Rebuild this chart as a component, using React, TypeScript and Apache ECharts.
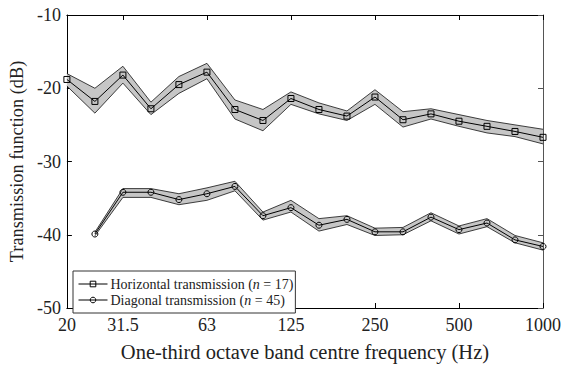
import React, { useEffect, useRef } from 'react';
import * as echarts from 'echarts';

const freqs = ['20', '25', '31.5', '40', '50', '63', '80', '100', '125', '160', '200', '250', '315', '400', '500', '630', '800', '1000'];
const shownFreqs = ['20', '31.5', '63', '125', '250', '500', '1000'];

const horizName = 'Horizontal transmission (n = 17)';
const horizMean = [-18.8, -21.8, -18.2, -22.8, -19.5, -17.8, -22.9, -24.4, -21.4, -22.9, -23.8, -21.2, -24.3, -23.5, -24.5, -25.2, -25.9, -26.7];
const horizUpper = [-18.0, -20.0, -17.0, -21.9, -18.4, -16.6, -21.6, -22.9, -20.5, -22.0, -23.1, -20.2, -23.2, -22.8, -23.6, -24.4, -25.0, -25.6];
const horizLower = [-19.7, -23.4, -19.3, -23.6, -20.7, -18.7, -24.2, -25.8, -22.2, -23.5, -24.4, -22.2, -25.3, -24.2, -25.2, -26.1, -26.6, -27.6];

const diagName = 'Diagonal transmission (n = 45)';
const diagMean = [null, -39.9, -34.2, -34.2, -35.2, -34.4, -33.4, -37.4, -36.3, -38.7, -37.9, -39.6, -39.6, -37.6, -39.3, -38.4, -40.7, -41.6];
const diagUpper = [null, -39.65, -33.7, -33.7, -34.4, -33.6, -32.7, -36.9, -35.3, -37.8, -37.4, -39.1, -39.0, -37.0, -38.8, -37.8, -40.1, -41.1];
const diagLower = [null, -40.15, -34.9, -34.9, -35.9, -35.3, -34.0, -38.0, -36.9, -39.5, -38.6, -40.1, -40.0, -38.1, -39.9, -38.9, -41.1, -42.1];

const FONT = '"Liberation Serif", "Times New Roman", serif';
const TXT = '#222';
const BAND = '#c6c6c6';

const toData = (arr: (number | null)[]) => arr.map((v) => (v == null ? '-' : v));
const diff = (up: (number | null)[], lo: (number | null)[]) =>
  up.map((u, i) => (u == null || lo[i] == null ? '-' : +((u as number) - (lo[i] as number)).toFixed(3)));

function bandSeries(stack: string, lower: (number | null)[], upper: (number | null)[]) {
  return [
    {
      type: 'line',
      stack,
      stackStrategy: 'all',
      data: toData(lower),
      symbol: 'none',
      lineStyle: { color: '#111', width: 0.8 },
      silent: true,
      z: 2,
    },
    {
      type: 'line',
      stack,
      stackStrategy: 'all',
      data: diff(upper, lower),
      symbol: 'none',
      lineStyle: { color: '#111', width: 0.8 },
      areaStyle: { color: BAND, opacity: 1 },
      silent: true,
      z: 2,
    },
  ];
}

function meanSeries(name: string, data: (number | null)[], symbol: string) {
  return {
    type: 'line',
    name,
    data: toData(data),
    symbol,
    symbolSize: 6,
    showAllSymbol: true,
    lineStyle: { color: '#000', width: 1 },
    itemStyle: { color: 'rgba(0,0,0,0)', borderColor: '#000', borderWidth: 1 },
    z: 3,
  };
}

export default function App() {
  const ref = useRef<HTMLDivElement>(null);
  useEffect(() => {
    if (!ref.current) return;
    const chart = echarts.init(ref.current, undefined, { renderer: 'svg' });
    const showIdx = (i: number) => shownFreqs.includes(freqs[i]);
    chart.setOption({
      animation: false,
      grid: { left: 64, right: 23, top: 15, bottom: 52 },
      legend: {
        data: [horizName, diagName],
        orient: 'vertical',
        left: 73,
        top: 271,
        padding: [5, 2, 5, 5],
        itemGap: 0,
        itemWidth: 29,
        itemHeight: 7,
        borderColor: '#333',
        borderWidth: 1,
        borderRadius: 0,
        backgroundColor: '#fff',
        lineStyle: { width: 1, color: '#000' },
        itemStyle: { borderWidth: 1, borderColor: '#000', color: 'rgba(0,0,0,0)' },
        textStyle: {
          fontFamily: FONT,
          fontSize: 14,
          color: TXT,
          lineHeight: 16,
          padding: [0, 0, 0, -2],
          rich: { i: { fontStyle: 'italic', fontFamily: FONT, fontSize: 14, color: TXT, lineHeight: 16 } },
        },
        formatter: (name: string) => name.replace('(n =', '({i|n} ='),
      },
      xAxis: [
        {
          type: 'category',
          data: freqs,
          boundaryGap: false,
          position: 'bottom',
          name: 'One-third octave band centre frequency (Hz)',
          nameLocation: 'middle',
          nameGap: 33,
          nameTextStyle: { fontFamily: FONT, fontSize: 20.5, color: TXT },
          axisLine: { lineStyle: { color: '#000', width: 1 } },
          axisTick: { inside: true, length: 5, interval: (i: number) => showIdx(i), lineStyle: { color: '#000' } },
          axisLabel: { interval: (i: number) => showIdx(i), fontFamily: FONT, fontSize: 18, color: TXT, margin: 8 },
          splitLine: { show: false },
        },
        {
          type: 'category',
          data: freqs,
          boundaryGap: false,
          position: 'top',
          axisLine: { lineStyle: { color: '#000', width: 1 } },
          axisTick: { inside: true, length: 5, interval: (i: number) => showIdx(i), lineStyle: { color: '#000' } },
          axisLabel: { show: false },
          splitLine: { show: false },
        },
      ],
      yAxis: [
        {
          type: 'value',
          min: -50,
          max: -10,
          interval: 10,
          position: 'left',
          name: 'Transmission function (dB)',
          nameLocation: 'middle',
          nameGap: 32,
          nameTextStyle: { fontFamily: FONT, fontSize: 18.3, color: TXT },
          axisLine: { show: true, lineStyle: { color: '#000', width: 1 } },
          axisTick: { show: true, inside: true, length: 5, lineStyle: { color: '#000' } },
          axisLabel: { fontFamily: FONT, fontSize: 18, color: TXT, margin: 6 },
          splitLine: { show: false },
        },
        {
          type: 'value',
          min: -50,
          max: -10,
          interval: 10,
          position: 'right',
          axisLine: { show: true, lineStyle: { color: '#555', width: 1 } },
          axisTick: { show: true, inside: true, length: 5, lineStyle: { color: '#555' } },
          axisLabel: { show: false },
          splitLine: { show: false },
        },
      ],
      series: [
        ...bandSeries('h', horizLower, horizUpper),
        ...bandSeries('d', diagLower, diagUpper),
        meanSeries(horizName, horizMean, 'rect'),
        meanSeries(diagName, diagMean, 'circle'),
      ],
    });
    return () => chart.dispose();
  }, []);
  return <div ref={ref} style={{ position: 'fixed', left: 0, top: 0, width: 566, height: 367, background: '#fff' }} />;
}
